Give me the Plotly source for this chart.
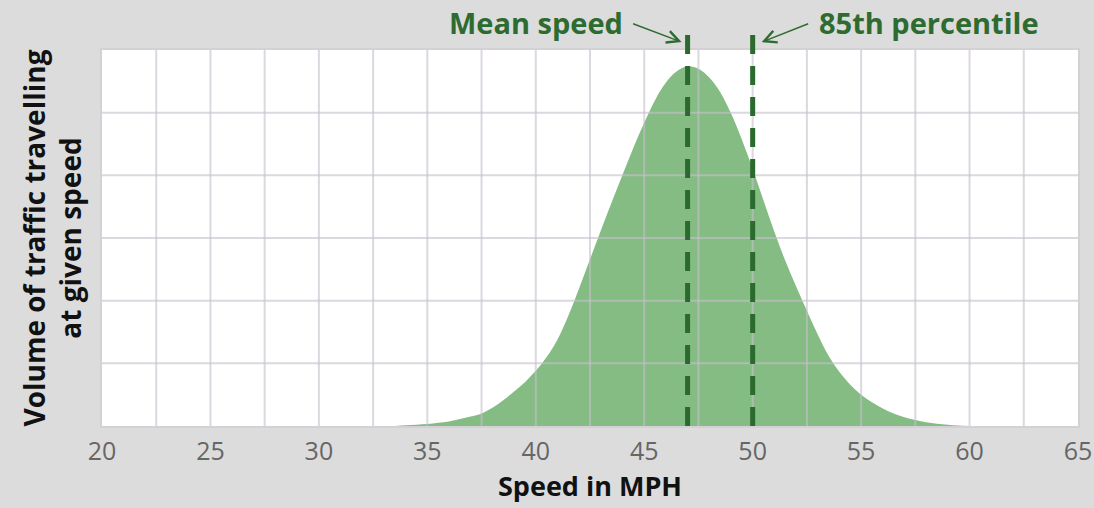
import plotly.graph_objects as go

# Speed (mph) and relative traffic volume
speed = [33.5, 34, 34.5, 35, 35.5, 36, 36.5, 37, 37.5, 38, 38.5, 39, 39.5, 40, 40.5,
         41, 41.5, 42, 42.5, 43, 43.5, 44, 44.5, 45, 45.5, 46, 46.5, 47, 47.5,
         48, 48.5, 49, 49.5, 50, 50.5, 51, 51.5, 52, 52.5, 53, 53.5, 54, 54.5,
         55, 55.5, 56, 56.5, 57, 57.5, 58, 58.5, 59, 59.5, 60]
volume = [0, 0.01, 0.02, 0.03, 0.05, 0.07, 0.11, 0.15, 0.20, 0.29, 0.41, 0.55, 0.70, 0.88, 1.10,
          1.38, 1.76, 2.20, 2.66, 3.12, 3.57, 4.01, 4.44, 4.84, 5.20, 5.48, 5.66, 5.74, 5.70,
          5.56, 5.33, 4.99, 4.57, 4.10, 3.60, 3.10, 2.64, 2.23, 1.84, 1.46, 1.12, 0.86, 0.66,
          0.50, 0.38, 0.28, 0.20, 0.14, 0.095, 0.06, 0.035, 0.018, 0.007, 0]

mean_speed = 47
pct85_speed = 50
x_ticks = [20, 25, 30, 35, 40, 45, 50, 55, 60, 65]
x_grid = [22.5, 25, 27.5, 30, 32.5, 35, 37.5, 40, 42.5, 45, 47.5, 50, 52.5, 55, 57.5, 60, 62.5]
y_grid = [1, 2, 3, 4, 5]

GREEN_TEXT = "#2e6b30"
DASH = "#2a6a2c"
FILL = "#84bc84"
GRID = "rgba(198,192,204,0.62)"

fig = go.Figure()
fig.add_trace(go.Scatter(
    x=speed, y=volume, mode="lines", fill="tozeroy",
    line=dict(width=0, shape="spline", smoothing=1.0, color=FILL),
    fillcolor=FILL, hoverinfo="skip", showlegend=False))

shapes = []
for gx in x_grid:
    shapes.append(dict(type="line", xref="x", yref="paper", x0=gx, x1=gx, y0=0, y1=1,
                       line=dict(color=GRID, width=2), layer="above"))
for gy in y_grid:
    shapes.append(dict(type="line", xref="paper", yref="y", x0=0, x1=1, y0=gy, y1=gy,
                       line=dict(color=GRID, width=2), layer="above"))
for xv in (mean_speed, pct85_speed):
    shapes.append(dict(type="line", xref="x", yref="paper", x0=xv, x1=xv, y0=0, y1=1.04,
                       line=dict(color=DASH, width=5, dash="19px,12px"), layer="above"))

annotations = [
    dict(text="<b>Mean speed</b>", xref="paper", yref="paper", x=0.536, y=1.074,
         xanchor="right", yanchor="middle", showarrow=False,
         font=dict(family="Open Sans", size=29, color=GREEN_TEXT)),
    dict(text="<b>85th percentile</b>", xref="paper", yref="paper", x=0.7326, y=1.074,
         xanchor="left", yanchor="middle", showarrow=False,
         font=dict(family="Open Sans", size=29, color=GREEN_TEXT)),
    dict(text="", x=mean_speed, xref="x", yref="paper", y=1.021, xshift=-6, showarrow=True,
         ax=-50, ay=-19, arrowhead=5, arrowsize=1.6, arrowwidth=1.5,
         arrowcolor=GREEN_TEXT, standoff=0),
    dict(text="", x=pct85_speed, xref="x", yref="paper", y=1.021, xshift=9, showarrow=True,
         ax=48, ay=-19, arrowhead=5, arrowsize=1.6, arrowwidth=1.5,
         arrowcolor=GREEN_TEXT, standoff=0),
]

fig.update_layout(
    width=1094, height=508,
    margin=dict(l=102, r=16, t=50, b=82),
    paper_bgcolor="#dcdcdc", plot_bgcolor="#ffffff",
    shapes=shapes, annotations=annotations,
    font=dict(family="Open Sans", color="#666666"),
    xaxis=dict(range=[20, 65], tickvals=x_ticks, showgrid=False, zeroline=False,
               automargin=False,
               showline=True, mirror=True, linecolor="#d4d0d6", linewidth=2,
               ticks="", ticklabelstandoff=2,
               tickfont=dict(family="Open Sans", size=25, color="#666666"),
               title=dict(text="<b>Speed in MPH</b>", standoff=6,
                          font=dict(family="Open Sans", size=27, color="#111111"))),
    yaxis=dict(range=[0, 6], showticklabels=False, showgrid=False, zeroline=False,
               automargin=False,
               showline=True, mirror=True, linecolor="#d4d0d6", linewidth=2,
               ticks="",
               title=dict(text="<b>Volume of traffic travelling<br>at given speed</b>",
                          standoff=10,
                          font=dict(family="Open Sans", size=28, color="#111111"))),
)

fig.write_html("out.html", config={"displayModeBar": False},
               post_script="document.body.style.margin='0';")
